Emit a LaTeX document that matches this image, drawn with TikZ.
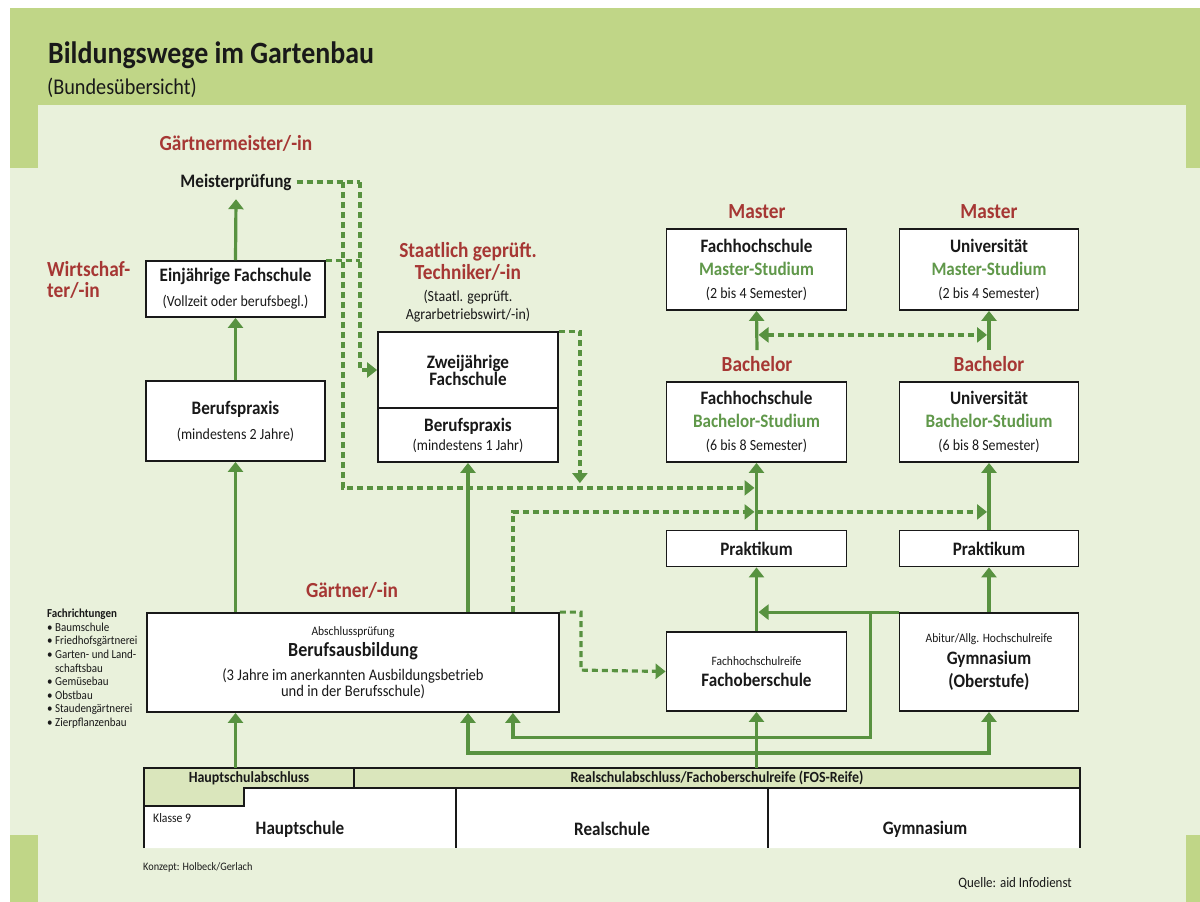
\documentclass[tikz,border=0pt]{standalone}
\usepackage{fontspec}
\setmainfont{Carlito}[FakeStretch=0.9]
\usepackage{tikz}
\usetikzlibrary{positioning,arrows.meta,calc}
\definecolor{paperc}{RGB}{233,241,219}
\definecolor{bandc}{RGB}{192,214,135}
\definecolor{barc}{RGB}{218,230,188}
\definecolor{inkc}{RGB}{25,25,25}
\definecolor{degreec}{RGB}{166,55,52}
\definecolor{studyc}{RGB}{96,152,74}
\definecolor{pathc}{RGB}{88,146,64}
\newcommand\fsHead{\fontsize{19}{23}\selectfont\bfseries}
\newcommand\fsNote{\fontsize{15.5}{23}\selectfont\mdseries}
\newcommand\fsTiny{\fontsize{12.8}{23}\selectfont\mdseries}
\newcommand\fsDegree{\fontsize{21.5}{22}\selectfont\bfseries}
\setlength{\lineskiplimit}{-50pt}
\tikzset{
  stage/.style  = {draw=inkc, line width=1.8pt, fill=white, text=inkc,
                   align=center, inner sep=0pt, font=\fsHead},
  degree/.style = {text=degreec, font=\fsDegree, align=center, inner sep=0pt},
  plain/.style  = {text=inkc, align=center, inner sep=0pt},
  flow/.style   = {-{Triangle[length=10pt,width=15pt]}, line width=3.2pt, draw=pathc},
  dflow/.style  = {flow, dash pattern=on 6pt off 4pt},
  dline/.style  = {line width=3.2pt, draw=pathc, dash pattern=on 6pt off 4pt},
  rule/.style   = {draw=inkc, line width=1.8pt},
}
\begin{document}
\begin{tikzpicture}[x=1pt, y=-1pt]
\useasboundingbox (0,0) rectangle (1200,902);

% background
\fill[white] (0,0) rectangle (1200,902);
\fill[paperc] (10,8) rectangle (1200,902);
\fill[bandc] (10,8) rectangle (1200,105);
\fill[bandc] (10,105) rectangle (38,168);
\fill[bandc] (1186,105) rectangle (1200,168);
\fill[bandc] (10,835) rectangle (38,902);
\fill[bandc] (1186,835) rectangle (1200,902);

\node[plain, anchor=base west, font=\fontsize{31}{31}\selectfont\bfseries] (title) at (48,63)
  {Bildungswege im Gartenbau};
\node[plain, anchor=base west, font=\fontsize{22.5}{23}\selectfont] (subtitle) at (47,94)
  {(Bundesübersicht)};

% left column
\node[degree] (lblMeister) at (236,143) {Gärtnermeister/-in};
\node[plain, font=\fsHead, minimum height=34pt, inner xsep=5pt] (meister) at (236,182) {Meisterprüfung};
\node[degree, align=left, anchor=west, font=\fontsize{21.5}{21}\selectfont\bfseries] (lblWirt) at (47,280)
  {Wirtschaf-\\ter/-in};
\node[stage, minimum width=179pt, minimum height=56pt] (einj) at (235.5,289)
  {Einjährige Fachschule\\[2pt]{\fsNote(Vollzeit oder berufsbegl.)}};
\node[stage, minimum width=179pt, minimum height=80pt] (praxisA) at (235.5,421)
  {Berufspraxis\\[2pt]{\fsNote(mindestens 2 Jahre)}};

% technician
\node[degree] (lblTech) at (468,261) {Staatlich geprüft.\\Techniker/-in};
\node[plain, font=\fontsize{15.5}{18}\selectfont] (techsub) at (468,306)
  {(Staatl. geprüft.\\Agrarbetriebswirt/-in)};
\node[stage, minimum width=180pt, minimum height=76pt] (zwei) at (468,370)
  {Zweijährige\\[-6pt]Fachschule};
\node[stage, minimum width=180pt, minimum height=54pt] (praxisB) at (468,435)
  {Berufspraxis\\[-4pt]{\fsNote(mindestens 1 Jahr)}};

% studies
\node[degree] (lblMasterFH) at (757,212) {Master};
\node[degree] (lblMasterUni) at (989,212) {Master};
\node[stage, minimum width=180pt, minimum height=81pt] (fhmaster) at (756.5,269.5)
  {Fachhochschule\\{\color{studyc}Master-Studium}\\{\fsNote(2 bis 4 Semester)}};
\node[stage, minimum width=179pt, minimum height=81pt] (unimaster) at (989,269.5)
  {Universität\\{\color{studyc}Master-Studium}\\{\fsNote(2 bis 4 Semester)}};
\node[degree] (lblBachFH) at (757,364) {Bachelor};
\node[degree] (lblBachUni) at (989,364) {Bachelor};
\node[stage, minimum width=180pt, minimum height=80pt] (fhbach) at (756.5,422)
  {Fachhochschule\\{\color{studyc}Bachelor-Studium}\\{\fsNote(6 bis 8 Semester)}};
\node[stage, minimum width=179pt, minimum height=80pt] (unibach) at (989,422)
  {Universität\\{\color{studyc}Bachelor-Studium}\\{\fsNote(6 bis 8 Semester)}};
\node[stage, minimum width=180pt, minimum height=36pt] (prakt1) at (756.5,548.5) {Praktikum};
\node[stage, minimum width=179pt, minimum height=36pt] (prakt2) at (989,548.5) {Praktikum};
\node[stage, minimum width=180pt, minimum height=79pt] (fos) at (756.5,671.5)
  {{\fsTiny Fachhochschulreife}\\[-2pt]Fachoberschule};
\node[stage, minimum width=179pt, minimum height=98pt] (gym) at (989,662)
  {{\fsTiny Abitur/Allg. Hochschulreife}\\[-1pt]Gymnasium\\(Oberstufe)};

% apprenticeship
\node[degree] (lblGaertner) at (352,590) {Gärtner/-in};
\node[stage, minimum width=412pt, minimum height=99pt] (ausb) at (353,662.5)
  {{\fsTiny Abschlussprüfung}\\[-2pt]{\fontsize{20}{23}\selectfont\bfseries Berufsausbildung}\\[1pt]
   {\fontsize{16.2}{23}\selectfont\mdseries (3 Jahre im anerkannten Ausbildungsbetrieb}\\[-7.5pt]
   {\fontsize{16.2}{23}\selectfont\mdseries und in der Berufsschule)}};
\node[plain, align=left, anchor=north west, font=\fontsize{12.2}{13.6}\selectfont] (fachr) at (47,609)
  {\textbf{Fachrichtungen}\\• Baumschule\\• Friedhofsgärtnerei\\• Garten- und Land-\\
   \hphantom{• }schaftsbau\\• Gemüsebau\\• Obstbau\\• Staudengärtnerei\\• Zierpflanzenbau};

% school bar
\fill[barc] (144,768) -- (1080,768) -- (1080,788) -- (244,788) -- (244,806) -- (144,806) -- cycle;
\fill[white] (144,806) -- (244,806) -- (244,788) -- (1080,788) -- (1080,848) -- (144,848) -- cycle;
\draw[rule] (144,848) -- (144,768) -- (1080,768) -- (1080,848);
\draw[rule] (144,806) -- (244,806) -- (244,788) -- (1080,788);
\draw[rule] (354,768) -- (354,788);
\draw[rule] (456,788) -- (456,848);
\draw[rule] (768,788) -- (768,848);
\node[plain, minimum height=20pt, font=\fontsize{15.5}{16}\selectfont\bfseries] (hsa) at (249,778)
  {Hauptschulabschluss};
\node[plain, minimum height=20pt, font=\fontsize{15.5}{16}\selectfont\bfseries] (rsa) at (717,778)
  {Realschulabschluss/Fachoberschulreife (FOS-Reife)};
\node[plain, anchor=west, font=\fontsize{13}{14}\selectfont] (klasse) at (153,818) {Klasse 9};
\node[plain, font=\fsHead] (hschule) at (300,829) {Hauptschule};
\node[plain, font=\fsHead] (rschule) at (612,829) {Realschule};
\node[plain, font=\fsHead] (gschule) at (925,829) {Gymnasium};
\node[plain, anchor=west, font=\fontsize{11.4}{12}\selectfont] (konzept) at (143,867) {Konzept: Holbeck/Gerlach};
\node[plain, anchor=east, font=\fontsize{14.4}{15}\selectfont] (quelle) at (1072,883) {Quelle: aid Infodienst};

% solid routes
\draw[flow] (einj.north) -- (meister.south);
\draw[flow] (praxisA.north) -- (einj.south);
\draw[flow] (praxisA.south |- ausb.north) -- (praxisA.south);
\draw[flow] (praxisA.south |- hsa.north) -- (praxisA.south |- ausb.south);
\draw[flow] (praxisB.south |- ausb.north) -- (praxisB.south);
\draw[flow] (fos.south |- rsa.north) -- (fos.south);
\coordinate (fork) at ($(fos.south)+(0,41)$);
\draw[flow] (fork) -| (gym.south);
\draw[flow] (fork) -| (praxisB.south |- ausb.south);
\draw[flow] (fos.north) -- (prakt1.south);
\draw[flow] (prakt1.north) -- (fhbach.south);
\draw[flow] ($(lblBachFH.north)+(0,-6)$) -- (fhmaster.south);
\draw[flow] (gym.north) -- (prakt2.south);
\draw[flow] (prakt2.north) -- (unibach.south);
\draw[flow] ($(lblBachUni.north)+(0,-6)$) -- (unimaster.south);
\draw[flow] (gym.north west) -- ($(fos.north |- gym.north)+(2,0)$);
\coordinate (gtap) at ($(gym.north west)+(-28,0)$);
\draw[flow] (gtap) -- ++(0,125) -| ($(ausb.south east)+(-47,0)$);

% dashed routes
\coordinate (mA) at (343,182);
\coordinate (mB) at (360,182);
\draw[dline] (meister.east) -- (mB);
\draw[dflow] (mB) |- (zwei.west);
\draw[dline] (einj.north east) -- (einj.north east -| mB);
\draw[dflow] (mA) |- ($(fhbach.south)+(-2,25)$);
\draw[dflow] (zwei.north east) -| ($(zwei.north east)+(21,152)$);
\draw[dflow] ($(ausb.north east)+(-47,0)$) |- ($(fhbach.south)+(-2,49)$);
\draw[dflow] ($(fhbach.south)+(0,49)$) -- ($(unibach.south)+(-2,49)$);
\draw[dflow] (ausb.north east) -| ($(ausb.north east)+(21,58)$) -- (fos.west);
\draw[dflow, {Triangle[length=10pt,width=15pt]}-{Triangle[length=10pt,width=15pt]}]
  ($(fhmaster.south)+(2,24)$) -- ($(unimaster.south)+(-2,24)$);

\end{tikzpicture}
\end{document}
